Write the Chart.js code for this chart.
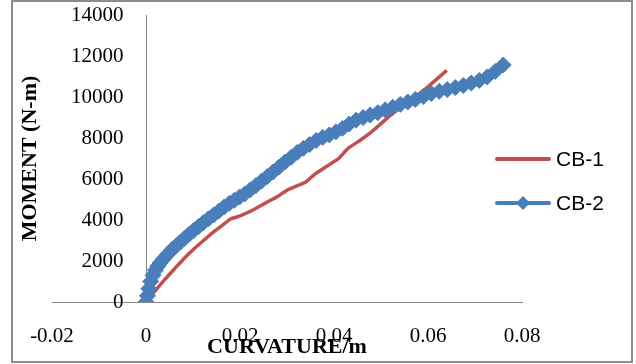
<!DOCTYPE html>
<html>
<head>
<meta charset="utf-8">
<script src="https://cdn.jsdelivr.net/npm/chart.js@4/dist/chart.umd.min.js"></script>
<style>
    html, body { margin: 0; padding: 0; background: #fff; }
    #wrap { position: relative; width: 636px; height: 364px; overflow: hidden; }
    #chart { position: absolute; left: 0; top: 0; }
    #frame { position: absolute; left: 11px; top: 0; width: 618px; height: 359px; border: 2px solid #8c8c8c; }
    .leg { position: absolute; left: 495px; height: 24px; width: 130px; }
    .leg .ln { position: absolute; left: 0; top: 10px; width: 56px; height: 4px; border-radius: 2px; }
    .leg .dm { position: absolute; left: 23px; top: 7px; width: 10px; height: 10px; transform: rotate(45deg); }
    .leg .tx { position: absolute; left: 61px; top: 0; font: 21px 'Liberation Sans', Arial, sans-serif; line-height: 24px; color: #000; }
</style>
</head>
<body>
<div id="wrap">
    <canvas id="chart" width="636" height="364"></canvas>
    <div id="frame"></div>
    <div class="leg" style="top:147px"><div class="ln" style="background:#C0504D"></div><span class="tx">CB-1</span></div>
    <div class="leg" style="top:191px"><div class="ln" style="background:#4A7EBB"></div><div class="dm" style="background:#4A7EBB"></div><span class="tx">CB-2</span></div>
</div>
<script>
// curvature (1/m) and moment (N-m)
const cb1Curv = [0, 0.002, 0.004, 0.006, 0.008, 0.010, 0.012, 0.014, 0.016, 0.018, 0.020, 0.022, 0.024,
    0.026, 0.028, 0.030, 0.032, 0.034, 0.036, 0.038, 0.040, 0.041, 0.042, 0.043, 0.045, 0.048, 0.052,
    0.056, 0.060, 0.064];
const cb1Moment = [0, 550, 1100, 1600, 2100, 2550, 2950, 3350, 3700, 4050, 4200, 4400, 4650,
    4900, 5150, 5450, 5650, 5850, 6250, 6550, 6850, 7000, 7250, 7500, 7800, 8300, 9100,
    9800, 10500, 11300];

const cb2Curv = [0, 0.0003, 0.0006, 0.001, 0.0015, 0.002, 0.0025, 0.003, 0.0038, 0.0046, 0.0055, 0.0064,
    0.0073, 0.0082, 0.0092, 0.0102, 0.0112, 0.0122, 0.0133, 0.0144, 0.0155, 0.0166, 0.0177, 0.0188,
    0.0199, 0.021, 0.0222, 0.0234, 0.0246, 0.0258, 0.027, 0.0283, 0.0296, 0.0309, 0.0322, 0.0335,
    0.0348, 0.0362, 0.0376, 0.039, 0.0404, 0.0418, 0.0432, 0.0447, 0.0462, 0.0477, 0.0493, 0.0509,
    0.0525, 0.0541, 0.0557, 0.0573, 0.059, 0.0607, 0.0624, 0.0641, 0.0658, 0.0675, 0.0692, 0.0709,
    0.0726, 0.0743, 0.076];
const cb2Moment = [0, 300, 650, 1000, 1300, 1550, 1750, 1900, 2120, 2330, 2550, 2740,
    2920, 3110, 3310, 3500, 3680, 3870, 4060, 4250, 4440, 4630, 4810, 4960,
    5120, 5270, 5470, 5680, 5900, 6120, 6340, 6580, 6830, 7060, 7300, 7500,
    7680, 7880, 8030, 8150, 8300, 8470, 8680, 8870, 9000, 9120, 9230, 9370,
    9500, 9640, 9760, 9880, 10020, 10170, 10280, 10360, 10460, 10560, 10680, 10810,
    10980, 11250, 11560];

const xTicks = [-0.02, 0, 0.02, 0.04, 0.06, 0.08];
const yTicks = [0, 2000, 4000, 6000, 8000, 10000, 12000, 14000];

const toPoints = (xs, ys) => xs.map((x, i) => ({ x, y: ys[i] }));

const serif = "'Liberation Serif', 'Times New Roman', serif";
const tickFont = { family: serif, size: 21 };
const titleFont = { family: serif, size: 22, weight: 'bold' };
const axisGrey = '#868686';

new Chart(document.getElementById('chart'), {
    type: 'scatter',
    data: {
        datasets: [
            {
                label: 'CB-1',
                data: toPoints(cb1Curv, cb1Moment),
                showLine: true,
                borderColor: '#C0504D',
                borderWidth: 3.5,
                pointRadius: 0,
                tension: 0.2,
                order: 2,
            },
            {
                label: 'CB-2',
                data: toPoints(cb2Curv, cb2Moment),
                showLine: true,
                borderColor: '#4A7EBB',
                backgroundColor: '#4A7EBB',
                borderWidth: 3,
                pointStyle: 'rectRot',
                pointRadius: 8,
                pointBorderWidth: 1,
                order: 1,
            },
        ],
    },
    options: {
        responsive: false,
        animation: false,
        layout: { padding: { left: 12, right: 114, top: 15, bottom: 0 } },
        plugins: { legend: { display: false }, tooltip: { enabled: false } },
        scales: {
            x: {
                type: 'linear',
                position: 'bottom',
                min: xTicks[0],
                max: xTicks[xTicks.length - 1],
                afterBuildTicks: (s) => { s.ticks = xTicks.map((v) => ({ value: v })); },
                ticks: {
                    padding: 22,
                    color: '#000',
                    font: tickFont,
                    callback: (v) => String(Math.round(v * 100) / 100),
                },
                // the only grid line is the vertical axis at zero curvature
                grid: {
                    drawTicks: false,
                    lineWidth: 1,
                    color: (c) => (c.tick && c.tick.value === 0 ? axisGrey : 'rgba(0,0,0,0)'),
                },
                border: { color: axisGrey, width: 1 },
                title: {
                    display: true,
                    text: 'CURVATURE/m',
                    color: '#000',
                    font: titleFont,
                    padding: { top: 0, bottom: 3 },
                },
                afterFit: (s) => {
                    s.height = 62;
                    s.paddingLeft = 0;
                    s.paddingRight = 0;
                },
            },
            y: {
                type: 'linear',
                position: 'left',
                min: yTicks[0],
                max: yTicks[yTicks.length - 1],
                afterBuildTicks: (s) => { s.ticks = yTicks.map((v) => ({ value: v })); },
                ticks: {
                    mirror: true,
                    crossAlign: 'far',
                    padding: 19,
                    color: '#000',
                    font: tickFont,
                    callback: (v) => String(v),
                },
                grid: { display: false, drawTicks: false },
                border: { display: false },
                title: {
                    display: true,
                    text: 'MOMENT (N-m)',
                    color: '#000',
                    font: titleFont,
                    padding: { top: 5, bottom: 9 },
                },
                afterFit: (s) => {
                    s.width = 40;
                    s.paddingTop = 0;
                    s.paddingBottom = 0;
                },
            },
        },
    },
});
</script>
</body>
</html>
